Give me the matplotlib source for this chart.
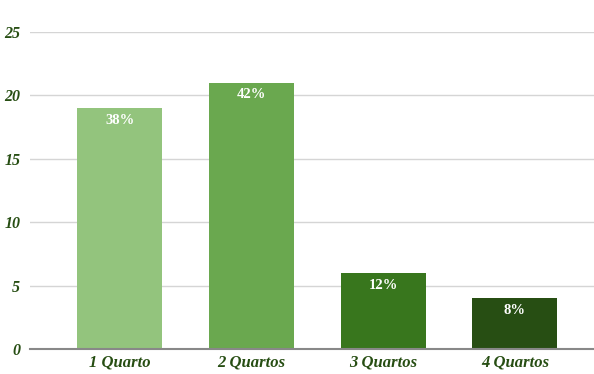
import matplotlib.pyplot as plt

categorias = ['1 Quarto', '2 Quartos', '3 Quartos', '4 Quartos']
valores = [19, 21, 6, 4]
rotulos = ['38%', '42%', '12%', '8%']
cores = ['#93c47d', '#6aa84f', '#38761d', '#274e13']
yticks = [0, 5, 10, 15, 20, 25]

verde = '#274e13'

fig = plt.figure(figsize=(5.94, 3.74), dpi=100)
ax = fig.add_axes([30/594, 1 - 349/374, 1 - 30/594, (349 - 32)/374])

x = range(len(categorias))
barras = ax.bar(x, valores, width=0.645, color=cores, zorder=3)

# Percentuais dentro das barras
for b, txt in zip(barras, rotulos):
    ax.text(b.get_x() + b.get_width()/2, b.get_height() - 0.45, txt,
            ha='center', va='top', color='white', fontsize=10.5,
            family='Liberation Serif', fontweight='bold', zorder=4)

ax.set_xlim(-0.68, 3.60)
ax.set_ylim(0, 25)
ax.set_yticks(yticks)
ax.set_xticks(list(x))
ax.set_xticklabels(categorias)

for lab in ax.get_xticklabels() + ax.get_yticklabels():
    lab.set_family('Liberation Serif')
    lab.set_fontweight('bold')
    lab.set_fontstyle('italic')
    lab.set_color(verde)
for lab in ax.get_xticklabels():
    lab.set_fontsize(12)
for lab in ax.get_yticklabels():
    lab.set_fontsize(11.5)

ax.tick_params(axis='both', length=0)
ax.tick_params(axis='x', pad=4)
ax.tick_params(axis='y', pad=7)

ax.grid(axis='y', color='#d5d5d5', linewidth=1, zorder=0)
for s in ['top', 'right', 'left']:
    ax.spines[s].set_visible(False)
ax.spines['bottom'].set_color('#888888')
ax.spines['bottom'].set_linewidth(1.5)
ax.spines['bottom'].set_zorder(5)

plt.savefig('out.png', dpi=100)
